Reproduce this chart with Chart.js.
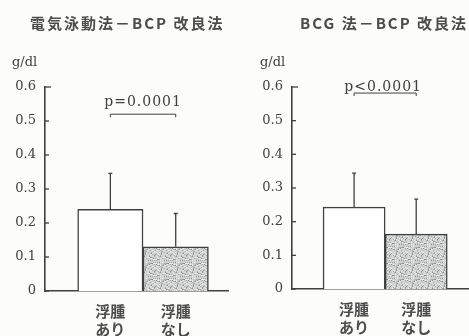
<!DOCTYPE html>
<html>
<head>
<meta charset="utf-8">
<script src="https://cdn.jsdelivr.net/npm/chart.js@4"></script>
<style>
html, body { margin: 0; padding: 0; background: #fcfcfa; width: 469px; height: 336px; overflow: hidden; }
#c1 { position: absolute; left: 0; top: 0; }
#c2 { position: absolute; left: 235px; top: 0; }
</style>
</head>
<body>
<canvas id="c1" width="235" height="336"></canvas>
<canvas id="c2" width="234" height="336"></canvas>
<script>
// data
const titles = ['電気泳動法－BCP 改良法', 'BCG 法－BCP 改良法'];
const unitLabel = 'g/dl';
const catLabels = [['浮腫', 'あり'], ['浮腫', 'なし']];
const catPos = [1, 2];
const yTicks = [0, 0.1, 0.2, 0.3, 0.4, 0.5, 0.6];
const pTexts = ['p=0.0001', 'p<0.0001'];
const meansLeft = [0.24, 0.13];
const sdLeft = [0.106, 0.098];
const meansRight = [0.243, 0.163];
const sdRight = [0.101, 0.104];

const ink = '#404040';
const cjkInk = '#4c4c4c';

function stipple(canvas) {
  const c = document.createElement('canvas');
  c.width = c.height = 16;
  const g = c.getContext('2d');
  g.fillStyle = '#cfd1d1';
  g.fillRect(0, 0, 16, 16);
  for (let i = 0; i < 16; i++) {
    for (let j = 0; j < 16; j++) {
      const h = (i * 37 + j * 57 + i * j * 11) % 23;
      if (h < 5) { g.fillStyle = h < 2 ? '#8e9090' : '#aaacac'; g.fillRect(i, j, 1, 1); }
      else if (h > 18) { g.fillStyle = '#eaecec'; g.fillRect(i, j, 1, 1); }
    }
  }
  return canvas.getContext('2d').createPattern(c, 'repeat');
}

const deco = {
  id: 'deco',
  afterDatasetsDraw(chart, args, o) {
    const ctx = chart.ctx, x = chart.scales.x, y = chart.scales.y, a = chart.chartArea;
    ctx.save();
    ctx.strokeStyle = ink;
    ctx.lineWidth = 1.3;
    // error bars (upward only)
    o.means.forEach((m, i) => {
      const px = x.getPixelForValue(catPos[i]);
      const y0 = y.getPixelForValue(m), y1 = y.getPixelForValue(m + o.sd[i]);
      ctx.beginPath();
      ctx.moveTo(px, y0); ctx.lineTo(px, y1);
      ctx.moveTo(px - 2, y1); ctx.lineTo(px + 2, y1);
      ctx.stroke();
    });
    // inward tick marks
    yTicks.forEach((v, i) => {
      const py = y.getPixelForValue(v);
      ctx.beginPath();
      ctx.moveTo(a.left, py);
      ctx.lineTo(a.left + (i === yTicks.length - 1 ? 6 : 4), py);
      ctx.stroke();
    });
    // significance bracket
    const bx0 = x.getPixelForValue(catPos[0]), bx1 = x.getPixelForValue(catPos[1]);
    const by = y.getPixelForValue(o.bracketAt);
    ctx.lineWidth = 1;
    ctx.beginPath();
    ctx.moveTo(bx0, by + 3); ctx.lineTo(bx0, by); ctx.lineTo(bx1, by); ctx.lineTo(bx1, by + 3);
    ctx.stroke();
    ctx.fillStyle = ink;
    ctx.font = '14px "DejaVu Serif"';
    ctx.letterSpacing = '1px';
    ctx.textAlign = 'center';
    ctx.textBaseline = 'alphabetic';
    ctx.fillText(o.p, (bx0 + bx1) / 2 + o.pShift, by - o.pGap);
    // unit label
    ctx.letterSpacing = '0px';
    ctx.textAlign = 'left';
    ctx.textBaseline = 'middle';
    ctx.font = '13px "DejaVu Serif"';
    ctx.fillText(unitLabel, o.unitX, 63);
    // panel title
    ctx.fillStyle = cjkInk;
    ctx.font = 'bold 15px "Noto Sans CJK JP"';
    ctx.letterSpacing = '2px';
    ctx.fillText(o.title, o.titleX, 23);
    ctx.restore();
  }
};

function makeChart(id, means, sd, opt) {
  const canvas = document.getElementById(id);
  return new Chart(canvas, {
    type: 'bar',
    data: {
      datasets: [{
        data: catPos.map((p, i) => ({ x: p, y: means[i] })),
        backgroundColor: ['#ffffff', stipple(canvas)],
        borderColor: ink,
        borderWidth: 1.5,
        barPercentage: 1,
        categoryPercentage: 1
      }]
    },
    options: {
      responsive: false,
      animation: false,
      devicePixelRatio: 1,
      layout: { padding: { top: 87, right: opt.padRight, left: 0, bottom: 0 } },
      plugins: {
        legend: { display: false },
        tooltip: { enabled: false },
        deco: opt.deco
      },
      scales: {
        x: {
          type: 'linear',
          min: 0,
          max: opt.xMax,
          offset: false,
          grid: { display: false, offset: false, drawTicks: false },
          border: { display: true, color: ink, width: 1.6 },
          afterBuildTicks: s => { s.ticks = catPos.map(v => ({ value: v })); },
          afterFit: s => { s.height = opt.axisH; },
          ticks: {
            padding: 11,
            color: cjkInk,
            font: { family: '"Noto Sans CJK JP"', size: 15, weight: 'bold', lineHeight: 1.2 },
            callback: v => catLabels[catPos.indexOf(v)] || ''
          }
        },
        y: {
          min: 0,
          max: 0.6,
          grid: { display: false, drawTicks: false },
          border: { display: true, color: ink, width: 1.6 },
          afterBuildTicks: s => { s.ticks = yTicks.map(v => ({ value: v })); },
          afterFit: s => { s.width = opt.axisW; },
          ticks: {
            padding: 9,
            color: ink,
            font: { family: '"DejaVu Serif"', size: 13 },
            callback: v => v === 0 ? '0' : v.toFixed(1)
          }
        }
      }
    },
    plugins: [deco]
  });
}

makeChart('c1', meansLeft, sdLeft, {
  padRight: 7, xMax: 2.8, axisW: 45, axisH: 45,
  deco: { means: meansLeft, sd: sdLeft, p: pTexts[0], bracketAt: 0.52, pGap: 8, pShift: 0,
          unitX: 12, title: titles[0], titleX: 30 }
});
makeChart('c2', meansRight, sdRight, {
  padRight: 0, xMax: 2.85, axisW: 57, axisH: 47,
  deco: { means: meansRight, sd: sdRight, p: pTexts[1], bracketAt: 0.582, pGap: 2, pShift: -2,
          unitX: 25, title: titles[1], titleX: 65 }
});
</script>
</body>
</html>
